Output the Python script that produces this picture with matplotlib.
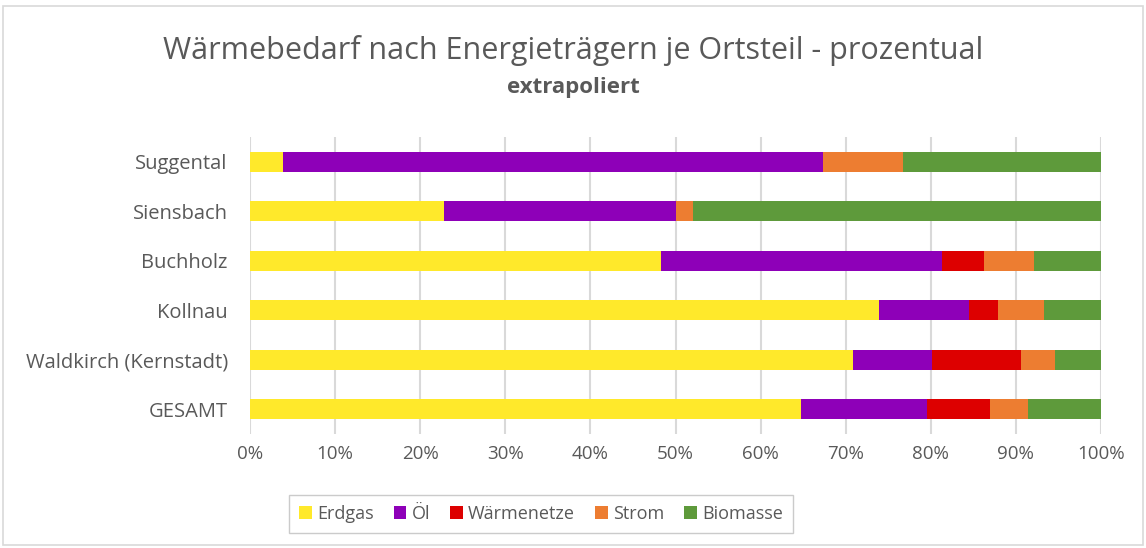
import matplotlib.pyplot as plt
import numpy as np
from matplotlib.patches import Rectangle

CATEGORIES = ["GESAMT", "Waldkirch (Kernstadt)", "Kollnau", "Buchholz", "Siensbach", "Suggental"]
ERDGAS = [64.8, 70.8, 73.9, 48.3, 22.8, 3.9]
OEL = [14.7, 9.3, 10.6, 33.0, 27.2, 63.4]
WAERMENETZE = [7.5, 10.5, 3.4, 4.9, 0.0, 0.0]
STROM = [4.4, 4.0, 5.4, 5.9, 2.0, 9.4]
BIOMASSE = [8.6, 5.4, 6.7, 7.9, 48.0, 23.3]
SERIES = ["Erdgas", "Öl", "Wärmenetze", "Strom", "Biomasse"]
COLORS = ["#FFE92B", "#8E00B8", "#DD0000", "#ED7D31", "#5E9A3B"]
TICKS = np.arange(0, 101, 10)


def main() -> None:
    plt.rcParams["font.family"] = ["Open Sans", "DejaVu Sans"]
    fig = plt.figure(figsize=(11.46, 5.48), dpi=100)
    ax = fig.add_axes([250 / 1146, 1 - 434 / 548, 851 / 1146, 297 / 548])

    y = np.arange(len(CATEGORIES))
    left = np.zeros(len(CATEGORIES))
    for name, vals, col in zip(SERIES, [ERDGAS, OEL, WAERMENETZE, STROM, BIOMASSE], COLORS):
        vals = np.array(vals)
        ax.barh(y, vals, left=left, height=0.4, color=col, label=name, zorder=3)
        left += vals

    ax.set_xlim(0, 100)
    ax.set_ylim(-0.5, len(CATEGORIES) - 0.5)
    ax.set_xticks(TICKS)
    ax.set_xticklabels([f"{t}%" for t in TICKS])
    ax.set_yticks(y)
    ax.set_yticklabels(CATEGORIES)
    ax.tick_params(axis="both", length=0, colors="#595959")
    ax.tick_params(axis="x", pad=8, labelsize=13.5)
    ax.tick_params(axis="y", pad=16, labelsize=14.5)
    ax.grid(True, axis="x", color="#d9d9d9", linewidth=1.5, zorder=0)
    for s in ax.spines.values():
        s.set_visible(False)

    fig.text(0.5, 1 - 50 / 548, "Wärmebedarf nach Energieträgern je Ortsteil - prozentual",
             ha="center", va="center", fontsize=22, color="#595959")
    fig.text(0.5, 1 - 88 / 548, "extrapoliert", ha="center", va="center",
             fontsize=16, fontweight="bold", color="#595959")

    leg = fig.legend(loc="center", bbox_to_anchor=(541 / 1146, 1 - 514 / 548), ncol=5,
                     fontsize=13, frameon=True, fancybox=False, edgecolor="#bfbfbf",
                     handlelength=0.7, handleheight=0.7, handletextpad=0.3,
                     columnspacing=1.1, borderpad=0.55)
    for t in leg.get_texts():
        t.set_color("#595959")

    fig.patches.append(Rectangle((3 / 1146, 3 / 548), 1140 / 1146, 539 / 548,
                                 transform=fig.transFigure, fill=False,
                                 edgecolor="#d9d9d9", linewidth=1.2))

    fig.savefig("out.png", dpi=100)
    plt.close(fig)


if __name__ == "__main__":
    main()
